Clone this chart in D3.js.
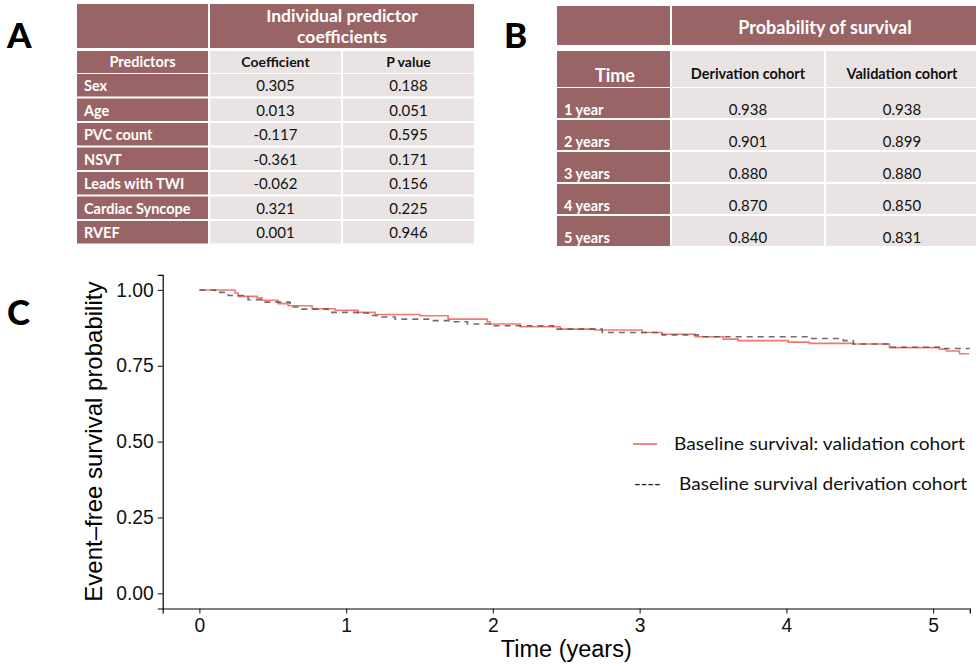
<!DOCTYPE html>
<html><head><meta charset="utf-8">
<script src="https://cdn.jsdelivr.net/npm/d3@7"></script>
<style>body{margin:0;background:#fff} svg{display:block}</style>
</head><body><svg id="c" width="976" height="667"></svg>
<script>
// ---------- data ----------
const predictors = ["Sex","Age","PVC count","NSVT","Leads with TWI","Cardiac Syncope","RVEF"];
const coefficients = [0.305, 0.013, -0.117, -0.361, -0.062, 0.321, 0.001];
const pValues = [0.188, 0.051, 0.595, 0.171, 0.156, 0.225, 0.946];

const timeLabels = ["1 year","2 years","3 years","4 years","5 years"];
const derivationProb = [0.938, 0.901, 0.880, 0.870, 0.840];
const validationProb = [0.938, 0.899, 0.880, 0.850, 0.831];

const xTicks = [0,1,2,3,4,5];
const yTicks = [0,0.25,0.5,0.75,1];

const validationTime = [0,0.243,0.264,0.393,0.427,0.537,0.605,0.768,0.925,1.081,1.197,1.504,1.695,1.961,1.981,2.186,2.459,2.697,3.017,3.153,3.379,3.570,3.672,4.013,4.156,4.456,4.702,5.043,5.091,5.180,5.245];
const validationSurv = [1.000,0.990,0.979,0.974,0.966,0.955,0.948,0.938,0.933,0.926,0.919,0.915,0.904,0.895,0.888,0.879,0.871,0.868,0.860,0.854,0.846,0.838,0.833,0.828,0.824,0.822,0.810,0.805,0.799,0.790,0.790];

const derivationTime = [0,0.107,0.196,0.332,0.448,0.618,0.700,0.877,1.081,1.149,1.245,1.334,1.595,1.711,1.827,1.981,2.411,2.745,3.153,3.399,4.140,4.388,4.456,4.702,5.066,5.250];
const derivationSurv = [1.000,0.992,0.982,0.968,0.960,0.944,0.937,0.926,0.924,0.916,0.911,0.904,0.899,0.895,0.888,0.882,0.871,0.860,0.852,0.846,0.840,0.833,0.822,0.811,0.807,0.807];

// ---------- styles ----------
const MAROON = "#996465", LIGHT = "#e9e4e3";
const TFONT = "Lato, 'Open Sans', sans-serif";
const AFONT = "'Liberation Sans', Arial, Helvetica, sans-serif";
const fmt = v => v.toFixed(3);

const svg = d3.select("#c");
svg.append("rect").attr("width",976).attr("height",667).attr("fill","#fff");

// panel letters
[["A",7,48],["B",504,48],["C",7,325]].forEach(([t,x,y]) =>
  svg.append("text").attr("x",x).attr("y",y).text(t)
    .attr("font-family",TFONT).attr("font-weight",900).attr("font-size",35).attr("fill","#000"));

function cell(g, x0, x1, y0, y1, fill){
  g.append("rect").attr("x",x0+1).attr("y",y0).attr("width",x1-x0-2).attr("height",y1-y0).attr("fill",fill);
}
function txt(g, s, x, y, opts){
  return g.append("text").attr("x",x).attr("y",y).text(s)
    .attr("font-family",TFONT).attr("font-size",opts.size||15)
    .attr("font-weight",opts.weight||400).attr("fill",opts.fill||"#111")
    .attr("text-anchor",opts.anchor||"middle");
}

// ---------- Table A ----------
{
  const g = svg.append("g");
  const cx = [76, 209, 342, 475];
  cell(g, cx[0], cx[1], 4, 48, MAROON);
  cell(g, cx[1], cx[3], 4, 48, MAROON);
  txt(g, "Individual predictor", (cx[1]+cx[3])/2, 22, {size:17.5, weight:700, fill:"#fff"});
  txt(g, "coefficients", (cx[1]+cx[3])/2, 43, {size:17.5, weight:700, fill:"#fff"});
  cell(g, cx[0], cx[1], 51, 73, MAROON);
  cell(g, cx[1], cx[2], 51, 73, LIGHT);
  cell(g, cx[2], cx[3], 51, 73, LIGHT);
  txt(g, "Predictors", (cx[0]+cx[1])/2, 67, {size:14.5, weight:700, fill:"#fff"});
  txt(g, "Coefficient", (cx[1]+cx[2])/2, 67, {size:14, weight:700, fill:"#111"});
  txt(g, "P value", (cx[2]+cx[3])/2, 67, {size:14, weight:700, fill:"#111"});
  const rowY = d3.scaleLinear().domain([0,1]).range([74, 98.5]);
  predictors.forEach((p,i) => {
    const y0 = rowY(i), y1 = y0 + 22.5;
    cell(g, cx[0], cx[1], y0, y1, MAROON);
    cell(g, cx[1], cx[2], y0, y1, LIGHT);
    cell(g, cx[2], cx[3], y0, y1, LIGHT);
    txt(g, p, 84, y1-5.5, {size:14.5, weight:700, fill:"#fff", anchor:"start"});
    txt(g, fmt(coefficients[i]), (cx[1]+cx[2])/2, y1-5.5, {size:15});
    txt(g, fmt(pValues[i]), (cx[2]+cx[3])/2, y1-5.5, {size:15});
  });
}

// ---------- Table B ----------
{
  const g = svg.append("g");
  const cx = [556, 671, 825, 978];
  cell(g, cx[0], cx[1], 6, 45, MAROON);
  cell(g, cx[1], cx[3], 6, 45, MAROON);
  txt(g, "Probability of survival", 825, 34, {size:18, weight:700, fill:"#fff"});
  cell(g, cx[0], cx[1], 51, 87, MAROON);
  cell(g, cx[1], cx[2], 51, 87, LIGHT);
  cell(g, cx[2], cx[3], 51, 87, LIGHT);
  txt(g, "Time", 615, 81.5, {size:18, weight:700, fill:"#fff"});
  txt(g, "Derivation cohort", 748, 79, {size:14.5, weight:700});
  txt(g, "Validation cohort", 902, 79, {size:14.5, weight:700});
  const rowY = d3.scaleLinear().domain([0,1]).range([88, 120]);
  timeLabels.forEach((t,i) => {
    const y0 = rowY(i), y1 = y0 + 30;
    cell(g, cx[0], cx[1], y0, y1, MAROON);
    cell(g, cx[1], cx[2], y0, y1, LIGHT);
    cell(g, cx[2], cx[3], y0, y1, LIGHT);
    txt(g, t, 564, y1-3, {size:14.5, weight:700, fill:"#fff", anchor:"start"});
    txt(g, fmt(derivationProb[i]), 748, y1-3, {size:15});
    txt(g, fmt(validationProb[i]), 902, y1-3, {size:15});
  });
}

// ---------- Panel C ----------
const x = d3.scaleLinear().domain([-0.25, 5.25]).range([162.7, 969.8]);
const y = d3.scaleLinear().domain([-0.05, 1.05]).range([608.5, 274.8]);

const gx = svg.append("g").attr("transform","translate(0,608.5)")
  .call(d3.axisBottom(x).tickValues(xTicks).tickFormat(d3.format("d")).tickSizeOuter(0).tickSize(5).tickPadding(5));
const gy = svg.append("g").attr("transform","translate(162.7,0)")
  .call(d3.axisLeft(y).tickValues(yTicks).tickFormat(d3.format(".2f")).tickSizeOuter(0).tickSize(5).tickPadding(4));
[gx,gy].forEach(g => {
  g.select(".domain").attr("stroke","#000").attr("stroke-width",1.2);
  g.selectAll(".tick line").attr("stroke","#222").attr("stroke-width",1.1);
  g.selectAll(".tick text").attr("font-family",AFONT).attr("font-size",19.3).attr("fill","#111");
});

svg.append("text").attr("x",(162.7+969.8)/2).attr("y",657).attr("text-anchor","middle")
  .attr("font-family",AFONT).attr("font-size",23.5).attr("fill","#000").text("Time (years)");
svg.append("text").attr("transform",`translate(102,${(274.8+608.5)/2}) rotate(-90)`).attr("text-anchor","middle")
  .attr("font-family",AFONT).attr("font-size",24).attr("fill","#000").text("Event\u2013free survival probability");

const line = d3.line().x(d => x(d[0])).y(d => y(d[1])).curve(d3.curveStepAfter);
svg.append("path").datum(d3.zip(validationTime, validationSurv)).attr("d",line)
  .attr("fill","none").attr("stroke","#F8766D").attr("stroke-width",1.6);
svg.append("path").datum(d3.zip(derivationTime, derivationSurv)).attr("d",line)
  .attr("fill","none").attr("stroke","#555").attr("stroke-opacity",0.85).attr("stroke-width",1.6)
  .attr("stroke-dasharray","6,5");

// legend
svg.append("line").attr("x1",633).attr("x2",657).attr("y1",444).attr("y2",444)
  .attr("stroke","#F8766D").attr("stroke-width",1.8);
svg.append("text").attr("x",674).attr("y",450).attr("font-family",TFONT).attr("font-size",18)
  .attr("fill","#111").attr("textLength",291).attr("lengthAdjust","spacingAndGlyphs")
  .text("Baseline survival: validation cohort");
svg.append("text").attr("x",634).attr("y",490).attr("font-family",TFONT).attr("font-size",18)
  .attr("fill","#222").text("----");
svg.append("text").attr("x",679).attr("y",490).attr("font-family",TFONT).attr("font-size",18)
  .attr("fill","#111").attr("textLength",288).attr("lengthAdjust","spacingAndGlyphs")
  .text("Baseline survival derivation cohort");
</script></body></html>
